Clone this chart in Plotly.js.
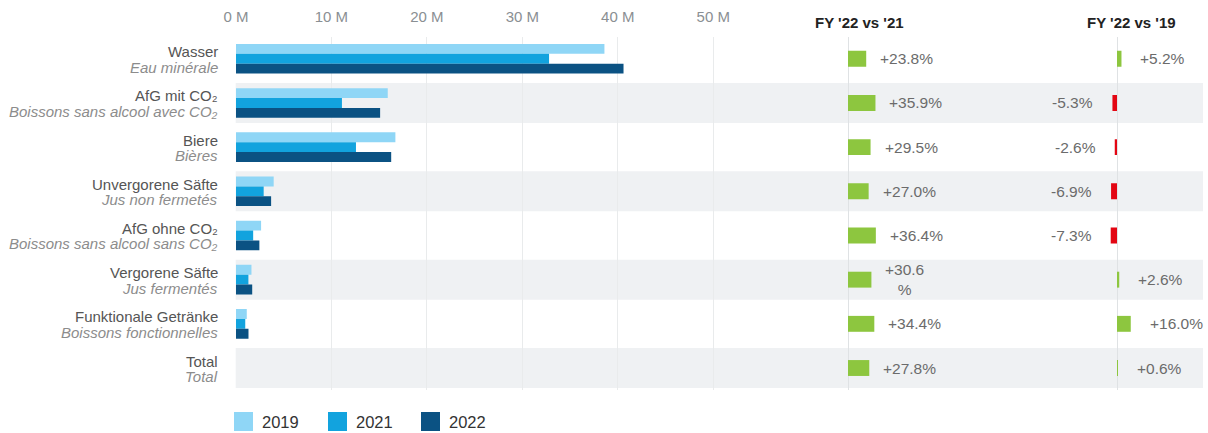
<!DOCTYPE html>
<html><head><meta charset="utf-8">
<script src="https://cdn.plot.ly/plotly-3.0.1.min.js"></script>
<style>html,body{margin:0;padding:0;background:#fff}#chart{width:1208px;height:433px}</style>
</head><body><div id="chart"></div>
<script>
// ---- data ----
const catsDe = ["Wasser","AfG mit CO₂","Biere","Unvergorene Säfte","AfG ohne CO₂","Vergorene Säfte","Funktionale Getränke","Total"];
const catsFr = ["Eau minérale","Boissons sans alcool avec CO₂","Bières","Jus non fermetés","Boissons sans alcool sans CO₂","Jus fermentés","Boissons fonctionnelles","Total"];
const years = ["2019","2021","2022"];
const v2019 = [38.6, 15.9, 16.7, 3.95, 2.63, 1.62, 1.13, null];
const v2021 = [32.8, 11.1, 12.57, 2.9, 1.8, 1.3, 0.97, null];
const v2022 = [40.6, 15.1, 16.26, 3.68, 2.45, 1.7, 1.31, null];
const d21 = [23.8, 35.9, 29.5, 27.0, 36.4, 30.6, 34.4, 27.8];
const d21Labels = ["+23.8%","+35.9%","+29.5%","+27.0%","+36.4%","+30.6<br>%","+34.4%","+27.8%"];
const d19 = [5.2, -5.3, -2.6, -6.9, -7.3, 2.6, 16.0, 0.6];
const d19Labels = ["+5.2%","-5.3%","-2.6%","-6.9%","-7.3%","+2.6%","+16.0%","+0.6%"];
const xTicks = [0, 10, 20, 30, 40, 50];
const headers = ["FY '22 vs '21", "FY '22 vs '19"];

// ---- styling ----
const W = 1208, H = 433;
const FONT = "Liberation Sans, Arial, Helvetica, sans-serif";
const yearColors = ["#8fd6f6", "#12a3de", "#0b5283"];
const GREEN = "#8dc63f", RED = "#e30613";
const px = v => v / W;
const py = v => 1 - v / H;

const main = [v2019, v2021, v2022].map((vals, k) => ({
  type: "bar", orientation: "h", name: years[k],
  x: vals, y: catsDe, xaxis: "x", yaxis: "y",
  marker: {color: yearColors[k]}, hoverinfo: "x+name"
}));
const delta1 = {
  type: "bar", orientation: "h", x: d21, y: catsDe, xaxis: "x2", yaxis: "y",
  width: 0.36, marker: {color: d21.map(v => v >= 0 ? GREEN : RED)}, hoverinfo: "x"
};
const delta2 = {
  type: "bar", orientation: "h", x: d19, y: catsDe, xaxis: "x3", yaxis: "y",
  width: 0.36, marker: {color: d19.map(v => v >= 0 ? GREEN : RED)}, hoverinfo: "x"
};

const shapes = [];
catsDe.forEach((c, i) => {
  if (i % 2 === 1) shapes.push({type: "rect", layer: "below", xref: "paper", yref: "y",
    x0: px(235.7), x1: px(1203), y0: i - 0.453, y1: i + 0.453,
    fillcolor: "#eff1f3", line: {width: 0}});
});
const legendX = [234, 328, 421];
years.forEach((y, k) => {
  shapes.push({type: "rect", xref: "paper", yref: "paper",
    x0: px(legendX[k]), x1: px(legendX[k] + 19), y0: py(431), y1: py(412),
    fillcolor: yearColors[k], line: {width: 0}});
});

const annotations = [];
catsDe.forEach((c, i) => {
  annotations.push({xref: "paper", yref: "y", x: px(220), y: c, xanchor: "right", yanchor: "middle",
    yshift: 7, text: c, showarrow: false, font: {family: FONT, size: 15, color: "#555"}});
  annotations.push({xref: "paper", yref: "y", x: px(220), y: c, xanchor: "right", yanchor: "middle",
    yshift: -8.5, text: "<i>" + catsFr[i] + "</i>", showarrow: false, font: {family: FONT, size: 15, color: "#8c8c8c"}});
  annotations.push({xref: "x2", yref: "y", x: d21[i], y: c, xanchor: d21[i] >= 0 ? "left" : "right",
    xshift: d21[i] >= 0 ? 12 : -17, text: d21Labels[i], showarrow: false,
    font: {family: FONT, size: 15.5, color: "#6b6b6b"}});
  annotations.push({xref: "x3", yref: "y", x: d19[i], y: c, xanchor: d19[i] >= 0 ? "left" : "right",
    xshift: d19[i] >= 0 ? 17 : -17, text: d19Labels[i], showarrow: false,
    font: {family: FONT, size: 15.5, color: "#6b6b6b"}});
});
[859, 1131].forEach((cx, k) => {
  annotations.push({xref: "paper", yref: "paper", x: px(cx), y: py(22.7), xanchor: "center", yanchor: "middle",
    text: "<b>" + headers[k] + "</b>", showarrow: false, font: {family: FONT, size: 15, color: "#222"}});
});
years.forEach((y, k) => {
  annotations.push({xref: "paper", yref: "paper", x: px(legendX[k] + 26), y: py(421.5), xanchor: "left", yanchor: "middle",
    text: y, showarrow: false, font: {family: FONT, size: 16.5, color: "#333"}});
});

const layout = {
  width: W, height: H, margin: {l: 0, r: 0, t: 0, b: 0, pad: 0},
  paper_bgcolor: "#fff", plot_bgcolor: "rgba(0,0,0,0)",
  barmode: "group", bargap: 0.33, bargroupgap: 0, showlegend: false,
  font: {family: FONT, color: "#555"},
  xaxis: {domain: [px(235.7), px(799)], range: [-0.03, (799 - 235.7) / 9.55], side: "top", anchor: "y",
    tickvals: xTicks, ticktext: xTicks.map(t => t + " M"), ticks: "", showline: false, ticklabelstandoff: 11,
    showgrid: true, gridcolor: "#e9ebec", gridwidth: 1, zeroline: false,
    tickfont: {family: FONT, size: 15, color: "#8a8f93"}, fixedrange: true},
  xaxis2: {domain: [px(820), px(1000)], range: [-28 / 0.765, 152 / 0.765], anchor: "y",
    showticklabels: false, showgrid: false, zeroline: true, zerolinecolor: "#dfe2e4", zerolinewidth: 1, showline: false, fixedrange: true},
  xaxis3: {domain: [px(1010), 1], range: [-107 / 0.86, 91 / 0.86], anchor: "y",
    showticklabels: false, showgrid: false, zeroline: true, zerolinecolor: "#dfe2e4", zerolinewidth: 1, showline: false, fixedrange: true},
  yaxis: {domain: [py(390.1), py(36.7)], type: "category", range: [7.5, -0.5], anchor: "x",
    showticklabels: false, showgrid: false, zeroline: false, showline: false, ticks: "", fixedrange: true},
  shapes: shapes, annotations: annotations
};

Plotly.newPlot("chart", [...main, delta1, delta2], layout, {displayModeBar: false});
</script>
</body></html>
